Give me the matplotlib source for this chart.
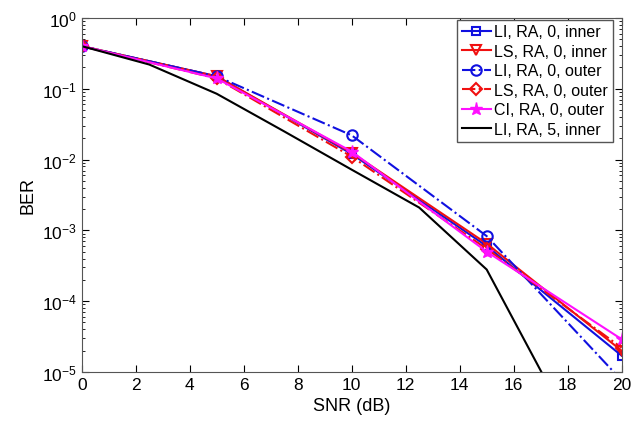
import matplotlib
matplotlib.use("Agg")
import matplotlib.pyplot as plt
import numpy as np

plt.rcParams['font.family'] = ['Liberation Sans', 'DejaVu Sans']

snr = [0, 5, 10, 15, 20]
li_inner = [0.40, 0.15, 0.0120, 6.0e-4, 1.7e-5]
ls_inner = [0.40, 0.15, 0.0125, 6.5e-4, 2.0e-5]
li_outer = [0.40, 0.15, 0.0220, 8.3e-4, 7.6e-6]
ls_outer = [0.40, 0.14, 0.0110, 5.5e-4, 2.2e-5]
ci_outer = [0.40, 0.14, 0.0130, 5.0e-4, 2.9e-5]

snr5 = [0, 2.5, 5, 7.5, 10, 12.5, 15, 17.5]
li5_inner = [0.40, 0.22, 0.085, 0.025, 0.0072, 0.0021, 2.8e-4, 4.6e-6]

labels = ["LI, RA, 0, inner", "LS, RA, 0, inner", "LI, RA, 0, outer",
          "LS, RA, 0, outer", "CI, RA, 0, outer", "LI, RA, 5, inner"]

fig = plt.figure(figsize=(6.35, 4.31), dpi=100)
ax = fig.add_axes([0.1287, 0.1346, 0.979 - 0.1287, 0.956 - 0.1346])

lw = 1.5
ax.semilogy(snr, li_inner, '-', color='#1010e0', marker='s', ms=6, mfc='none', mew=1.5, lw=lw, label=labels[0])
ax.semilogy(snr, ls_inner, '-', color='#f01010', marker='v', ms=7.5, mfc='none', mew=1.5, lw=lw, label=labels[1])
ax.semilogy(snr, li_outer, '-.', color='#1010e0', marker='o', ms=7.5, mfc='none', mew=1.5, lw=lw, label=labels[2])
ax.semilogy(snr, ls_outer, '-.', color='#f01010', marker='D', ms=6, mfc='none', mew=1.5, lw=lw, label=labels[3])
ax.semilogy(snr, ci_outer, '-', color='#ff10ff', marker='*', ms=9.5, mew=1.0, lw=lw, label=labels[4])
ax.semilogy(snr5, li5_inner, '-', color='black', lw=lw, label=labels[5])

ax.set_xlim(0, 20)
ax.set_ylim(1e-5, 1)
ax.set_xticks(np.arange(0, 21, 2))
ax.set_xlabel("SNR (dB)", fontsize=13)
ax.set_ylabel("BER", fontsize=13)
ax.tick_params(which='both', direction='in', top=True, right=True, labelsize=12.5)
ax.tick_params(which='major', length=5)
ax.tick_params(which='minor', length=2.5)
for s in ax.spines.values():
    s.set_color('#555555')

leg = ax.legend(loc='upper right', bbox_to_anchor=(0.986, 1.0), fontsize=11.5,
                handlelength=1.8, handletextpad=0.2, borderpad=0.3, labelspacing=0.28,
                borderaxespad=0.1, fancybox=False, framealpha=1, edgecolor='#555555')

fig.savefig("out.png", dpi=100)
